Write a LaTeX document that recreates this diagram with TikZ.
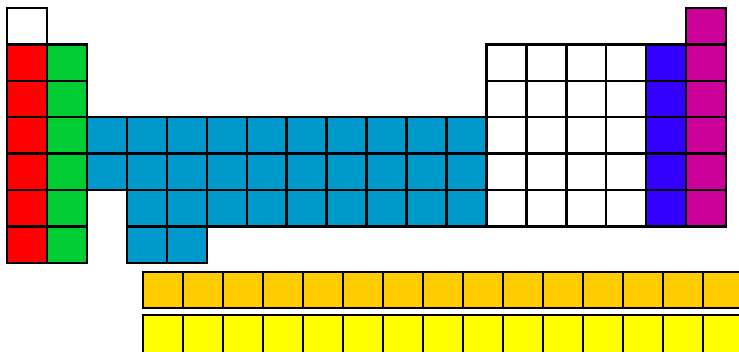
\documentclass[tikz,border=0pt]{standalone}
\definecolor{sred}{HTML}{FF0000}
\definecolor{sgreen}{HTML}{00CC33}
\definecolor{dblue}{HTML}{0099CC}
\definecolor{pviolet}{HTML}{3300FF}
\definecolor{nmag}{HTML}{CC0099}
\definecolor{lanth}{HTML}{FFCC00}
\definecolor{actin}{HTML}{FFFF00}
\begin{document}
\begin{tikzpicture}[x=1pt,y=-1pt,
  cellbox/.style={draw=black,line width=2.4pt,line join=miter}]
\useasboundingbox (0,0) rectangle (739,351);
\clip (0,0) rectangle (739,351);
\def\cw{39.95}
\def\rh{36.4}
\newcommand\pcell[3]{\draw[cellbox,fill=#3] ({7+(#1-1)*\cw},{8+(#2-1)*\rh}) rectangle ++(\cw,\rh);}
% s-block
\pcell{1}{1}{white}
\foreach \r in {2,...,7}{\pcell{1}{\r}{sred}\pcell{2}{\r}{sgreen}}
% d-block
\foreach \r in {4,5}{\foreach \c in {3,...,12}{\pcell{\c}{\r}{dblue}}}
\foreach \c in {4,...,12}{\pcell{\c}{6}{dblue}}
\foreach \c in {4,5}{\pcell{\c}{7}{dblue}}
% p-block
\foreach \r in {2,...,6}{\foreach \c in {13,...,16}{\pcell{\c}{\r}{white}}\pcell{17}{\r}{pviolet}}
\foreach \r in {1,...,6}{\pcell{18}{\r}{nmag}}
% f-block
\foreach \i in {0,...,14}{
  \draw[cellbox,fill=lanth] ({143+\i*40},272) rectangle ++(40,36);
  \draw[cellbox,fill=actin] ({143+\i*40},315) rectangle ++(40,38);
}
\end{tikzpicture}
\end{document}
